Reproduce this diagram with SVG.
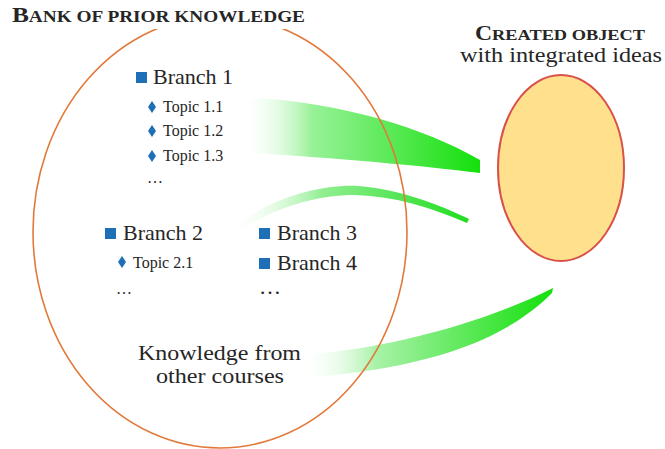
<svg xmlns="http://www.w3.org/2000/svg" width="665" height="449" viewBox="0 0 665 449">
<defs>
<style>
.t{font-family:"Liberation Serif","Times New Roman",serif;fill:#262626}
.br{font-size:22px}
.tp{font-size:16px}
.sq{fill:#1E6FB5}
.dm{fill:#1E6FB5}
.bank{fill:none;stroke:#E2793A;stroke-width:1.6}
</style>
<linearGradient id="g1" gradientUnits="userSpaceOnUse" x1="240" y1="0" x2="480" y2="0">
<stop offset="0" stop-color="#ffffff" stop-opacity="0"/>
<stop offset="0.3" stop-color="#98F298"/>
<stop offset="1" stop-color="#14E00C"/>
</linearGradient>
<linearGradient id="g2" gradientUnits="userSpaceOnUse" x1="226" y1="0" x2="468" y2="0">
<stop offset="0" stop-color="#ffffff" stop-opacity="0"/>
<stop offset="0.4" stop-color="#90EE90"/>
<stop offset="1" stop-color="#20DD20"/>
</linearGradient>
<linearGradient id="g3" gradientUnits="userSpaceOnUse" x1="300" y1="0" x2="553" y2="0">
<stop offset="0" stop-color="#ffffff" stop-opacity="0"/>
<stop offset="0.3" stop-color="#A8F2A8"/>
<stop offset="1" stop-color="#14E00C"/>
</linearGradient>
</defs>

<g id="connectors">
<path d="M240,97 C330,100 420,125 480,160 L480,173 C420,165 320,157 240,152 Z" fill="url(#g1)"/>
<path d="M227,234 C262,200 318,184 358,186 C400,189 440,205 469,219 L467,223 C432,208 395,196 355,195 C310,195 262,212 227,240 Z" fill="url(#g2)"/>
<path d="M300,355 C380,350 480,325 553,288 L552,293 C510,335 440,368 300,378 Z" fill="url(#g3)"/>
</g>

<g id="bank">
<ellipse class="bank" cx="220" cy="232" rx="187" ry="216"/>
<rect x="8" y="0" width="310" height="29" fill="#ffffff"/>
<text class="t" x="12" y="22" textLength="293" lengthAdjust="spacingAndGlyphs" font-weight="bold"><tspan font-size="21">B</tspan><tspan font-size="16">ANK OF PRIOR KNOWLEDGE</tspan></text>
</g>

<g id="branch1">
<rect class="sq" x="136" y="72" width="11" height="11"/>
<text class="t br" x="153" y="84">Branch 1</text>
</g>
<g id="topic11">
<path class="dm" d="M152,101 L156,107 L152,113 L148,107 Z"/>
<text class="t tp" x="163" y="112">Topic 1.1</text>
</g>
<g id="topic12">
<path class="dm" d="M152,125 L156,131 L152,137 L148,131 Z"/>
<text class="t tp" x="163" y="136">Topic 1.2</text>
</g>
<g id="topic13">
<path class="dm" d="M152,150 L156,156 L152,162 L148,156 Z"/>
<text class="t tp" x="163" y="161">Topic 1.3</text>
</g>
<text class="t tp" x="147" y="183">…</text>

<g id="branch2">
<rect class="sq" x="105" y="228" width="11" height="11"/>
<text class="t br" x="123" y="240">Branch 2</text>
</g>
<g id="topic21">
<path class="dm" d="M122,256 L126,262 L122,268 L118,262 Z"/>
<text class="t tp" x="133" y="268">Topic 2.1</text>
</g>
<text class="t tp" x="116" y="294">…</text>

<g id="branch3">
<rect class="sq" x="259" y="228" width="11" height="11"/>
<text class="t br" x="277" y="240">Branch 3</text>
</g>
<g id="branch4">
<rect class="sq" x="259" y="258" width="11" height="11"/>
<text class="t br" x="277" y="270">Branch 4</text>
</g>
<text class="t br" x="259" y="294">…</text>

<g id="other">
<text class="t br" x="138" y="360" textLength="163" lengthAdjust="spacingAndGlyphs">Knowledge from</text>
<text class="t br" x="156" y="383" textLength="128" lengthAdjust="spacingAndGlyphs">other courses</text>
</g>

<g id="created">
<ellipse cx="561" cy="168" rx="63" ry="93" fill="#FFE08C" stroke="#D9514A" stroke-width="2"/>
<text class="t" x="475" y="40" textLength="170" lengthAdjust="spacingAndGlyphs" font-weight="bold"><tspan font-size="20">C</tspan><tspan font-size="15.5">REATED OBJECT</tspan></text>
<text class="t" x="460" y="62" font-size="21" textLength="202" lengthAdjust="spacingAndGlyphs">with integrated ideas</text>
</g>
</svg>
